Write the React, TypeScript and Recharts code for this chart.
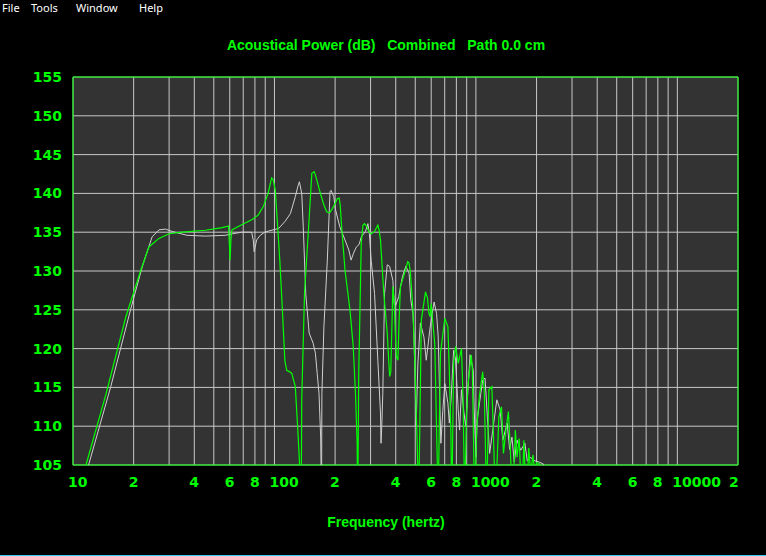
import React from "react";
import { LineChart, Line, XAxis, YAxis, CartesianGrid, ReferenceArea } from "recharts";

const greenFreq = [11.3, 11.6, 14.6, 18.3, 21.7, 23.8, 26.7, 30, 34.8, 45.4, 55, 59.2, 60.2, 60.8, 61.5, 68, 77.1, 83, 88, 93, 96.8, 98.5, 101, 106.3, 109.3, 112.6, 115, 119, 121.9, 126.9, 130.3, 133, 134.5, 136, 136.6, 141, 147.8, 153.3, 157.6, 162, 169, 176, 182, 188, 192.3, 200, 205, 209.6, 212, 215.5, 224, 237, 246, 252.5, 257.4, 258.5, 260, 262, 269.7, 275, 280, 288, 295, 302, 314, 326, 330, 336, 349, 363, 370, 373, 378, 387, 393, 398, 403, 410, 415, 422, 442, 459, 466, 473, 487, 500, 511, 520, 528, 536, 562, 575, 585, 593, 600, 608, 625, 638, 650, 658, 667, 701, 726, 738, 750, 760, 768, 775, 793, 817, 848, 863, 880, 895, 912, 948, 960, 970, 985, 1010, 1040, 1080, 1100, 1130, 1160, 1200, 1220, 1250, 1300, 1340, 1370, 1410, 1450, 1480, 1520, 1570, 1600, 1640, 1690, 1730, 1780, 1830, 1870, 1920, 1960, 2000, 2060, 2100];
const greenDb = [104, 105, 114.2, 124.1, 130.1, 133.1, 134.2, 134.8, 135.0, 135.25, 135.6, 135.8, 131.4, 134, 135.3, 135.9, 136.6, 137.2, 138.3, 140.0, 142.0, 141.8, 140.4, 131.4, 125.4, 118.5, 117.2, 117.0, 116.8, 115.1, 110, 105.6, 100, 104, 113.4, 127.1, 135.7, 142.6, 142.8, 141.8, 140.0, 138.5, 137.6, 137.5, 137.9, 138.7, 139.3, 139.4, 138.5, 135.7, 130.1, 125.0, 120.3, 114.2, 107.8, 100, 105, 116.8, 133.6, 135.9, 136.1, 135.7, 135.0, 134.8, 135.1, 135.9, 135.4, 134.0, 127.1, 122.0, 118, 116.4, 117, 128.0, 126, 122, 119, 118.5, 123, 128.0, 129.7, 131.2, 131, 129.8, 125, 116.4, 107.8, 100, 112, 123.7, 127.3, 126.5, 124.5, 124.1, 125.8, 124, 120.6, 109.5, 100, 110, 119.4, 123.9, 122.8, 117.2, 110, 100, 110, 118.1, 120.3, 118.1, 120.0, 113.8, 100, 110, 115.1, 119.2, 117.5, 110.4, 100, 110, 113.8, 117.0, 114.7, 100, 114.7, 115.1, 109.5, 100, 111.2, 112.5, 106.5, 109.5, 111.9, 107.4, 100, 109.5, 106, 108.4, 100, 108.2, 100, 107.2, 104, 106.3, 104, 105.3, 105.2, 104];

const whiteFreq = [11.7, 11.95, 15.4, 19.3, 22.1, 24.7, 26.7, 28.8, 31, 36.8, 45.4, 56.9, 62, 68.8, 77, 78.5, 79.3, 81.6, 85, 89.5, 95, 102, 105, 113, 120, 127, 131, 133, 136.6, 139, 143, 148.7, 155.6, 159.7, 163, 166.4, 169.6, 170.5, 171.5, 172, 176, 183, 188.7, 191, 197, 201, 211, 224, 234, 240, 247, 255, 263, 270, 283, 291, 296, 302, 314, 326, 336, 338, 341, 345, 352, 363, 373, 387, 393, 400, 414, 432, 449, 466, 475, 487, 493, 505, 515, 530, 552, 567, 593, 620, 638, 650, 670, 685, 701, 726, 738, 755, 775, 793, 817, 830, 848, 870, 890, 935, 970, 980, 1000, 1015, 1080, 1110, 1140, 1170, 1220, 1270, 1320, 1360, 1430, 1470, 1510, 1550, 1600, 1670, 1750, 1800, 1870, 1930, 2050, 2170, 2200];
const whiteDb = [104, 105, 115.1, 125, 130.6, 134.4, 135.3, 135.4, 135.1, 134.6, 134.5, 134.6, 134.8, 135, 135, 134, 132.5, 134, 134.6, 135, 135.2, 135.4, 135.5, 136.4, 137.4, 139.6, 141, 141.5, 140.0, 135.7, 127.1, 122.0, 120.7, 119.4, 116.8, 114.2, 108.6, 104, 105, 114.2, 122.8, 131.4, 140.2, 140.4, 139.6, 137.9, 135.7, 134.0, 132.7, 131.4, 132.3, 133.1, 133.4, 134.4, 135.1, 136.1, 134.8, 131.4, 127.1, 118.5, 111.7, 107.8, 110, 114.2, 127.1, 130.8, 130.6, 128.8, 125.8, 125.6, 126.7, 129.3, 130.6, 129.7, 126.3, 124.5, 121.5, 110, 118, 123.3, 121.5, 118.5, 122.8, 126.0, 124.5, 121.5, 107.8, 112, 115.5, 113.0, 110.4, 114, 119.8, 118.5, 112.1, 109.5, 114.7, 112, 110, 119.2, 117.2, 112.5, 106, 110.8, 115.9, 116.2, 111.2, 106.5, 110, 113.4, 112.1, 108.2, 110.4, 107, 108.6, 105.4, 108.2, 106.9, 107.8, 105.5, 106, 105.6, 105.4, 105.1, 104];

const gridFreqs = [10, 20, 30, 40, 50, 60, 70, 80, 90, 100, 200, 300, 400, 500, 600, 700, 800, 900, 1000, 2000, 3000, 4000, 5000, 6000, 7000, 8000, 9000, 10000, 20000];
const labeledFreqs = [10, 20, 40, 60, 80, 100, 200, 400, 600, 800, 1000, 2000, 4000, 6000, 8000, 10000, 20000];
const labelTexts = ["10", "2", "4", "6", "8", "100", "2", "4", "6", "8", "1000", "2", "4", "6", "8", "10000", "2"];
const yTicks = [105, 110, 115, 120, 125, 130, 135, 140, 145, 150, 155];

const titleText = "Acoustical Power (dB)   Combined   Path 0.0 cm";
const xLabelText = "Frequency (hertz)";
const menuItems = ["File", "Tools", "Window", "Help"];
const menuLeft = [2, 31, 76, 139];

const GREEN = "#00ff00";
const tickFont = "'DejaVu Sans', sans-serif";

const greenData = greenFreq.map((f, i) => ({ f, v: greenDb[i] }));
const whiteData = whiteFreq.map((f, i) => ({ f, v: whiteDb[i] }));

const XTick = (props: any) => {
  const { x, y, payload } = props;
  const idx = labeledFreqs.indexOf(payload.value);
  if (idx < 0) return null;
  const isLast = idx === labeledFreqs.length - 1;
  return (
    <text x={isLast ? x - 9 : x - 5} y={y + 22} textAnchor="start" fill={GREEN}
      fontFamily={tickFont} fontWeight="bold" fontSize={14}>
      {labelTexts[idx]}
    </text>
  );
};

const YTick = (props: any) => {
  const { x, y, payload } = props;
  return (
    <text x={x - 11} y={y + 5} textAnchor="end" fill={GREEN}
      fontFamily={tickFont} fontWeight="bold" fontSize={14}>
      {payload.value}
    </text>
  );
};

export default function App() {
  return (
    <div style={{ position: "absolute", left: 0, top: 0, width: 766, height: 556, background: "#000", overflow: "hidden" }}>
      {menuItems.map((m, i) => (
        <div key={m} style={{ position: "absolute", left: menuLeft[i], top: 1, color: "#fff", fontFamily: "'Noto Sans', sans-serif", fontSize: 11, lineHeight: "14px", whiteSpace: "pre" }}>{m}</div>
      ))}
      <div style={{ position: "absolute", left: 0, width: 772, top: 37, textAlign: "center", color: GREEN, fontFamily: "'Liberation Sans', Arial, sans-serif", fontWeight: "bold", fontSize: 14, lineHeight: "16px", whiteSpace: "pre" }}>{titleText}</div>
      <div style={{ position: "absolute", left: 0, width: 772, top: 514, textAlign: "center", color: GREEN, fontFamily: "'Liberation Sans', Arial, sans-serif", fontWeight: "bold", fontSize: 14, lineHeight: "16px", whiteSpace: "pre" }}>{xLabelText}</div>
      <div style={{ position: "absolute", left: 0, top: 555, width: 766, height: 1, background: "#3cc8f0" }} />
      <div style={{ position: "absolute", left: 0, top: 0 }}>
        <LineChart width={766} height={556} margin={{ top: 77, right: 28, bottom: 0, left: 0 }}>
          <CartesianGrid stroke="#c8c8c8" fill="#333333" strokeWidth={1} />
          <XAxis type="number" dataKey="f" scale="log" domain={[10, 20000]} ticks={gridFreqs}
            allowDataOverflow height={91} axisLine={false} tickLine={false} tickSize={0} tickMargin={0}
            tick={<XTick />} interval={0} />
          <YAxis type="number" domain={[105, 155]} ticks={yTicks} allowDataOverflow width={73}
            axisLine={false} tickLine={false} tickSize={0} tickMargin={0} tick={<YTick />} interval={0} />
          <Line data={whiteData} dataKey="v" stroke="#d0d0d0" strokeWidth={1} dot={false} isAnimationActive={false} type="linear" />
          <Line data={greenData} dataKey="v" stroke={GREEN} strokeWidth={1.2} dot={false} isAnimationActive={false} type="linear" />
          <ReferenceArea x1={10} x2={20000} y1={105} y2={155} fill="none" fillOpacity={0} stroke={GREEN} strokeWidth={1} />
        </LineChart>
      </div>
    </div>
  );
}
